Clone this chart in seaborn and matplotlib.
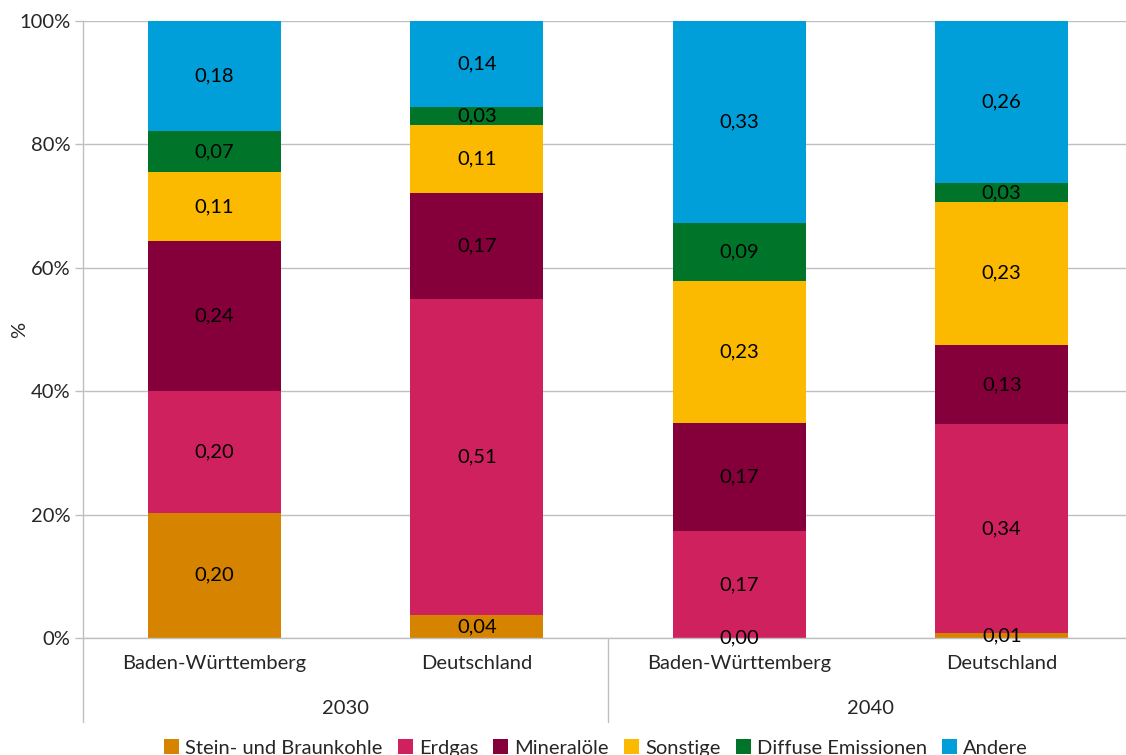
import matplotlib
matplotlib.use("Agg")
import matplotlib.pyplot as plt
import matplotlib.transforms as mtransforms
from matplotlib.patches import Patch
import numpy as np
import pandas as pd
import seaborn as sns

# ---- data ----
regions = ["Baden-Württemberg", "Deutschland", "Baden-Württemberg", "Deutschland"]
years = ["2030", "2030", "2040", "2040"]
series_names = ["Stein- und Braunkohle", "Erdgas", "Mineralöle", "Sonstige",
                "Diffuse Emissionen", "Andere"]
stein = [0.203, 0.037, 0.000, 0.008]
erdgas = [0.197, 0.512, 0.173, 0.339]
mineraloele = [0.243, 0.172, 0.175, 0.128]
sonstige = [0.112, 0.110, 0.231, 0.232]
diffuse = [0.067, 0.030, 0.094, 0.030]
andere = [0.178, 0.139, 0.327, 0.263]
yticks = [0, 0.2, 0.4, 0.6, 0.8, 1.0]

colors = ["#D68400", "#D0215F", "#85003A", "#FBBA00", "#00752A", "#009FDA"]

series = [stein, erdgas, mineraloele, sonstige, diffuse, andere]
keys = [f"{r} {y}" for r, y in zip(regions, years)]

sns.set_theme(style="white")
plt.rcParams["font.family"] = ["Lato", "DejaVu Sans"]
FS = 14.5

fig = plt.figure(figsize=(11.26, 7.55), dpi=100)
ax = fig.add_axes([83 / 1126, 117 / 755, 1050 / 1126, 617 / 755])

vals = np.array(series)  # shape (6, 4)
cum = np.cumsum(vals, axis=0)

# draw cumulative layers, top-most first
for i in range(len(series) - 1, -1, -1):
    df = pd.DataFrame({"key": keys, "val": cum[i]})
    sns.barplot(data=df, x="key", y="val", order=keys, color=colors[i],
                width=0.507, saturation=1, linewidth=0, ax=ax, zorder=2)

# data labels
for i in range(len(series)):
    for j in range(len(keys)):
        v = vals[i, j]
        center = cum[i, j] - v / 2
        ax.text(j, center, f"{v:.2f}".replace(".", ","), ha="center", va="center",
                fontsize=FS, color="black", zorder=5)

ax.set_ylim(0, 1)
ax.set_xlim(-0.5, 3.5)
ax.set_yticks(yticks)
ax.set_yticklabels([f"{int(round(t * 100))}%" for t in yticks], fontsize=FS)
ax.set_xticks(range(len(keys)))
ax.set_xticklabels(regions, fontsize=FS)
ax.tick_params(axis="x", length=0, pad=12)
ax.tick_params(axis="y", length=6, color="#BFBFBF", width=1, pad=3, direction="out", left=True)
ax.set_xlabel("")
ax.set_ylabel("%", fontsize=FS)
ax.yaxis.set_label_coords(-55 / 1050, 0.5)

ax.yaxis.grid(True, color="#BFBFBF", linewidth=1, zorder=0)
ax.set_axisbelow(True)
for s in ["top", "right"]:
    ax.spines[s].set_visible(False)
ax.spines["left"].set_color("#BFBFBF")
ax.spines["bottom"].set_color("#BFBFBF")
ax.spines["left"].set_linewidth(1)
ax.spines["bottom"].set_linewidth(1)

# group separators and group labels
trans = mtransforms.blended_transform_factory(ax.transData, ax.transAxes)
low = -84 / 617
for xs in [-0.5, 1.5, 3.5]:
    ax.plot([xs, xs], [0, low], color="#BFBFBF", linewidth=1, transform=trans, clip_on=False)
group_years = ["2030", "2040"]
for g, yr in enumerate(group_years):
    ax.text(g * 2 + 0.5, -70 / 617, yr, transform=trans, ha="center", va="center", fontsize=FS)

handles = [Patch(facecolor=c, edgecolor="none") for c in colors]
fig.legend(handles, series_names, loc="center", bbox_to_anchor=(596 / 1126, 7 / 755),
           ncol=6, frameon=False, fontsize=FS, handlelength=0.75, handleheight=0.75,
           handletextpad=0.3, columnspacing=0.75)

fig.savefig("out.png", dpi=100)
